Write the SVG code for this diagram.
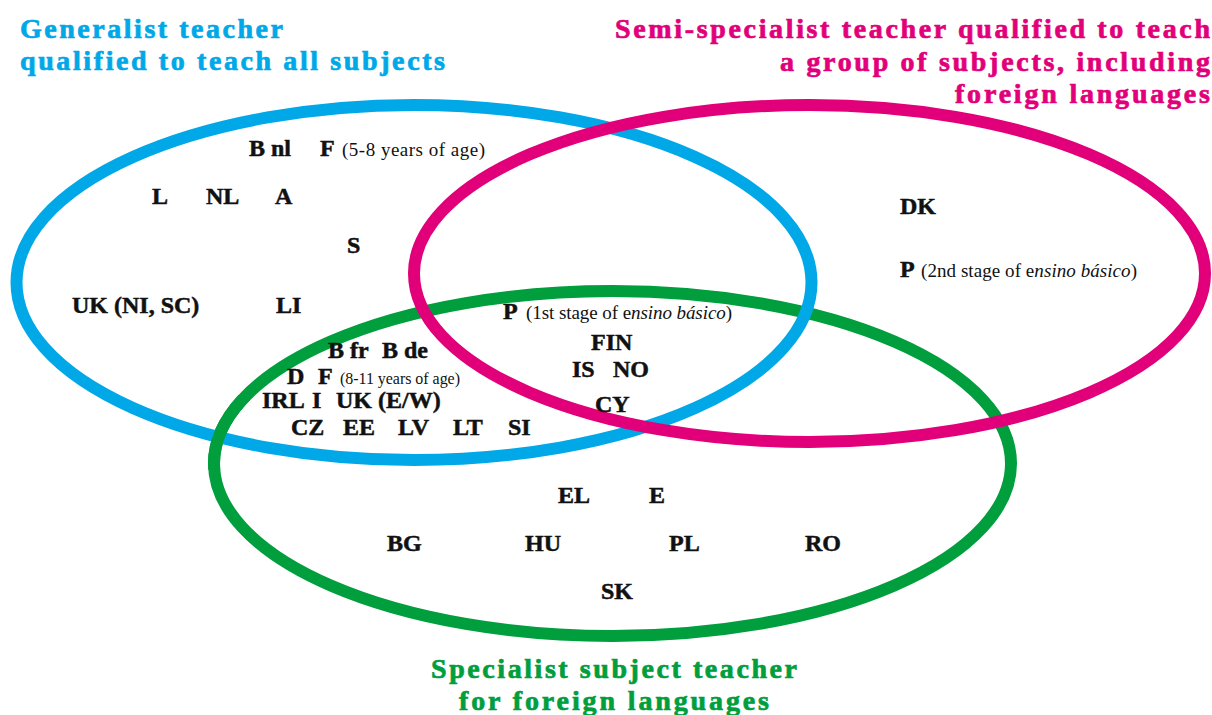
<svg xmlns="http://www.w3.org/2000/svg" width="1212" height="715" viewBox="0 0 1212 715">
  <style>
    .ring { fill: none; stroke-width: 12; }
    .blue { stroke: #00a8e8; }
    .pink { stroke: #e2007a; }
    .green { stroke: #009e3d; }
    .title { font-family: "Liberation Serif", serif; font-weight: bold; font-size: 28px; stroke-width: 0.7px; }
    .t-blue { fill: #00a8e8; stroke: #00a8e8; }
    .t-pink { fill: #e2007a; stroke: #e2007a; }
    .t-green { fill: #009e3d; stroke: #009e3d; }
    .c { font-family: "Liberation Serif", serif; font-weight: bold; font-size: 24px; fill: #111; stroke: #111; stroke-width: 0.5px; }
    .n { font-family: "Liberation Serif", serif; font-weight: normal; font-size: 19px; fill: #111; }
    .s { font-size: 16px; }
    .i { font-style: italic; }
  </style>
  <defs>
    <clipPath id="leftCross">
      <rect x="190" y="395" width="60" height="75"/>
    </clipPath>
  </defs>
  <rect width="1212" height="715" fill="#ffffff"/>

  <!-- the three overlapping sets -->
  <g id="set-specialist">
    <ellipse class="ring green" cx="612.5" cy="463.5" rx="398.5" ry="172.5"/>
  </g>
  <g id="set-generalist">
    <ellipse class="ring blue" cx="414" cy="282.5" rx="397.5" ry="177.5"/>
    <!-- green passes over blue on the left crossing -->
    <ellipse class="ring green" cx="612.5" cy="463.5" rx="398.5" ry="172.5" clip-path="url(#leftCross)"/>
  </g>
  <g id="set-semi-specialist">
    <ellipse class="ring pink" cx="809.5" cy="273.5" rx="395.5" ry="168.5"/>
  </g>

  <g id="connectors"></g>

  <!-- set titles -->
  <g id="title-generalist" class="title t-blue">
    <text x="20" y="38" textLength="263" lengthAdjust="spacing">Generalist teacher</text>
    <text x="20" y="70" textLength="425" lengthAdjust="spacing">qualified to teach all subjects</text>
  </g>
  <g id="title-semi-specialist" class="title t-pink">
    <text x="615" y="38" textLength="595" lengthAdjust="spacing">Semi-specialist teacher qualified to teach</text>
    <text x="780" y="71" textLength="430" lengthAdjust="spacing">a group of subjects, including</text>
    <text x="955" y="103" textLength="255" lengthAdjust="spacing">foreign languages</text>
  </g>
  <g id="title-specialist" class="title t-green">
    <text x="431" y="678" textLength="366" lengthAdjust="spacing">Specialist subject teacher</text>
    <text x="459" y="710" textLength="310" lengthAdjust="spacing">for foreign languages</text>
  </g>

  <!-- generalist only -->
  <g id="region-generalist">
    <text class="c" x="249" y="156">B nl</text>
    <text class="c" x="320" y="156">F</text>
    <text class="n" x="342" y="156" textLength="143" lengthAdjust="spacing">(5-8 years of age)</text>
    <text class="c" x="152" y="204">L</text>
    <text class="c" x="206" y="204">NL</text>
    <text class="c" x="275" y="204">A</text>
    <text class="c" x="347" y="253">S</text>
    <text class="c" x="72" y="313">UK (NI, SC)</text>
    <text class="c" x="276" y="313">LI</text>
  </g>

  <!-- generalist and specialist -->
  <g id="region-generalist-specialist">
    <text class="c" x="328" y="358">B fr</text>
    <text class="c" x="382" y="358">B de</text>
    <text class="c" x="287" y="384">D</text>
    <text class="c" x="318" y="384">F</text>
    <text class="n s" x="340" y="384" textLength="120" lengthAdjust="spacing">(8-11 years of age)</text>
    <text class="c" x="262" y="408">IRL</text>
    <text class="c" x="312" y="408">I</text>
    <text class="c" x="336" y="408">UK (E/W)</text>
    <text class="c" x="291" y="435">CZ</text>
    <text class="c" x="343" y="435">EE</text>
    <text class="c" x="398" y="435">LV</text>
    <text class="c" x="453" y="435">LT</text>
    <text class="c" x="508" y="435">SI</text>
  </g>

  <!-- all three -->
  <g id="region-all">
    <text class="c" x="503" y="319">P</text>
    <text class="n" x="526" y="319" textLength="206" lengthAdjust="spacing">(1st stage of e<tspan class="i">nsino básico</tspan>)</text>
    <text class="c" x="591" y="350">FIN</text>
    <text class="c" x="572" y="377">IS</text>
    <text class="c" x="613" y="377">NO</text>
    <text class="c" x="595" y="412">CY</text>
  </g>

  <!-- semi-specialist only -->
  <g id="region-semi-specialist">
    <text class="c" x="900" y="214">DK</text>
    <text class="c" x="900" y="277">P</text>
    <text class="n" x="921" y="277" textLength="216" lengthAdjust="spacing">(2nd stage of e<tspan class="i">nsino básico</tspan>)</text>
  </g>

  <!-- specialist only -->
  <g id="region-specialist">
    <text class="c" x="558" y="503">EL</text>
    <text class="c" x="649" y="503">E</text>
    <text class="c" x="387" y="551">BG</text>
    <text class="c" x="525" y="551">HU</text>
    <text class="c" x="669" y="551">PL</text>
    <text class="c" x="805" y="551">RO</text>
    <text class="c" x="601" y="599">SK</text>
  </g>
</svg>
